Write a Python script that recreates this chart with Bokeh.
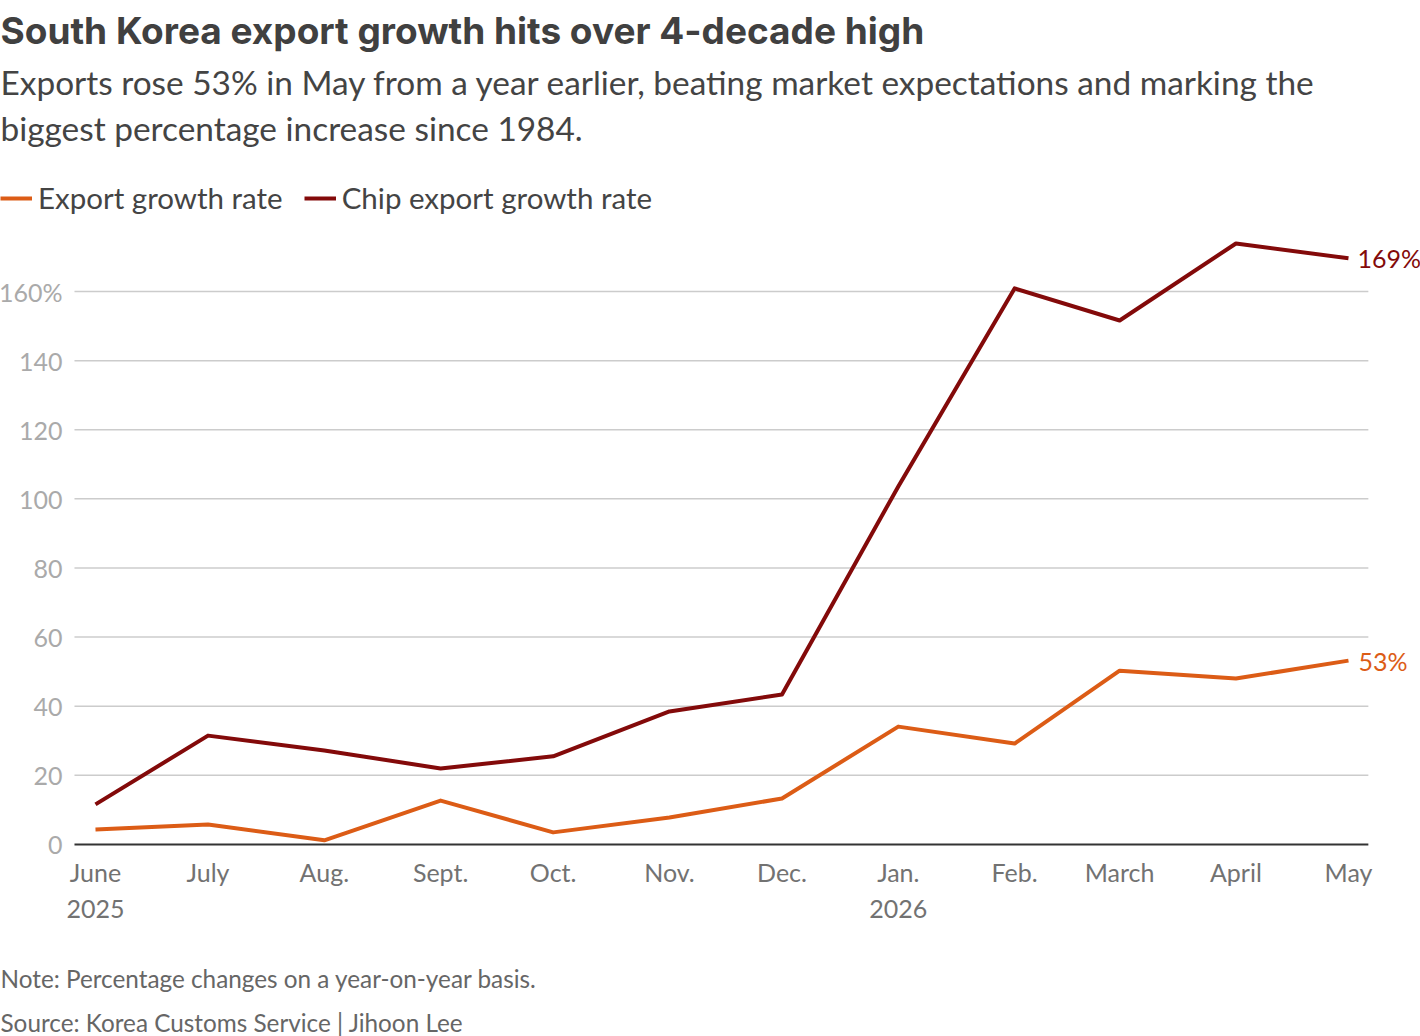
import pandas as pd
from bokeh.plotting import figure
from bokeh.models import (Label, Legend, LegendItem, FixedTicker, Range1d,
                          LinearAxis)
from bokeh.embed import file_html
from bokeh.resources import INLINE

dates = ["2025-06-01", "2025-07-01", "2025-08-01", "2025-09-01", "2025-10-01",
         "2025-11-01", "2025-12-01", "2026-01-01", "2026-02-01", "2026-03-01",
         "2026-04-01", "2026-05-01"]
months = ["June", "July", "Aug.", "Sept.", "Oct.", "Nov.", "Dec.",
          "Jan.", "Feb.", "March", "April", "May"]
years = {0: "2025", 7: "2026"}
export_growth = [4.3, 5.8, 1.2, 12.7, 3.5, 7.8, 13.3, 34.1, 29.2, 50.3, 48.0, 53.2]
chip_growth = [11.6, 31.5, 27.2, 22.0, 25.5, 38.5, 43.4, 103.6, 160.9, 151.6, 173.9, 169.6]
y_ticks = [0, 20, 40, 60, 80, 100, 120, 140, 160]

ORANGE = "#dc5c16"
DARKRED = "#830a0a"
FONT = "Lato"

# x in days since the first month (time scale)
d = pd.to_datetime(dates)
x = [int((t - d[0]).days) for t in d]
X_LO, X_HI = -5.6, 339.3       # horizontal extent of the grid (days)
W, H = 1420, 1036

# the frame covers the whole canvas; axes are placed at fixed locations
p = figure(width=W, height=H, output_backend="svg", toolbar_location=None,
           x_range=Range1d(-25.32, 353.2), y_range=Range1d(-55.56, 244.2),
           x_axis_type=None, y_axis_type=None,
           min_border_left=0, min_border_right=0, min_border_top=0,
           min_border_bottom=0)
p.outline_line_color = None
p.background_fill_color = "white"
p.border_fill_color = "white"
p.xgrid.grid_line_color = None
p.ygrid.grid_line_color = None

yaxis = LinearAxis(fixed_location=X_LO, ticker=FixedTicker(ticks=y_ticks),
                   major_label_overrides={t: (f"{t}%" if t == 160 else str(t)) for t in y_ticks},
                   axis_line_color=None, major_tick_line_color=None,
                   minor_tick_line_color=None, major_tick_in=0, major_tick_out=0,
                   major_label_text_font=FONT, major_label_text_font_size="25px",
                   major_label_text_color="#aaaaaa", major_label_standoff=12)
p.add_layout(yaxis, "left")

xaxis = LinearAxis(fixed_location=0, ticker=FixedTicker(ticks=x),
                   major_label_overrides={xi: (m + "\n" + years[i] if i in years else m)
                                          for i, (xi, m) in enumerate(zip(x, months))},
                   axis_line_color=None, major_tick_line_color=None,
                   minor_tick_line_color=None, major_tick_in=0, major_tick_out=0,
                   major_label_text_font=FONT, major_label_text_font_size="25px",
                   major_label_text_color="#727272", major_label_standoff=13)
p.add_layout(xaxis, "below")

# grid lines limited to the chart's horizontal extent
grid_y = y_ticks[1:]
p.segment(x0=[X_LO] * len(grid_y), x1=[X_HI] * len(grid_y), y0=grid_y, y1=grid_y,
          line_color="#cccccc", line_width=1.5)
p.segment(x0=[X_LO], x1=[X_HI], y0=[0], y1=[0], line_color="#333333", line_width=2)

r1 = p.line(x, export_growth, line_color=ORANGE, line_width=4, line_join="round")
r2 = p.line(x, chip_growth, line_color=DARKRED, line_width=4, line_join="round")

# end labels
p.add_layout(Label(x=x[-1], y=export_growth[-1], text="53%", x_offset=10,
                   text_baseline="middle", text_font=FONT, text_font_size="25px",
                   text_color=ORANGE))
p.add_layout(Label(x=x[-1], y=chip_growth[-1], text="169%", x_offset=9,
                   text_baseline="middle", text_font=FONT, text_font_size="25px",
                   text_color=DARKRED))

# legend
legend = Legend(items=[LegendItem(label="Export growth rate", renderers=[r1]),
                       LegendItem(label="Chip export growth rate", renderers=[r2])],
                orientation="horizontal", location=(0, H - 215),
                label_text_font=FONT, label_text_font_size="29.5px",
                label_text_color="#444444", glyph_width=32, glyph_height=30,
                label_height=30, label_standoff=6, spacing=21, padding=0, margin=0,
                border_line_color=None, background_fill_alpha=0)
p.add_layout(legend, "center")

def text_at(px, py, text, size, color, bold=False, font=FONT):
    p.add_layout(Label(x=px, y=H - py, x_units="screen", y_units="screen",
                       text=text, text_baseline="middle", text_font=font,
                       text_font_size=size, text_color=color,
                       text_font_style="bold" if bold else "normal"))

text_at(0, 30, "South Korea export growth hits over 4-decade high", "37px", "#404040", True, "Inter")
text_at(0, 81, "Exports rose 53% in May from a year earlier, beating market expectations and marking the", "33.4px", "#444444")
text_at(0, 127, "biggest percentage increase since 1984.", "33.4px", "#444444")
text_at(0, 978, "Note: Percentage changes on a year-on-year basis.", "24.3px", "#666666")
text_at(0, 1022, "Source: Korea Customs Service |  Jihoon Lee", "24.3px", "#666666")

open("out.html", "w").write(file_html(p, INLINE))
